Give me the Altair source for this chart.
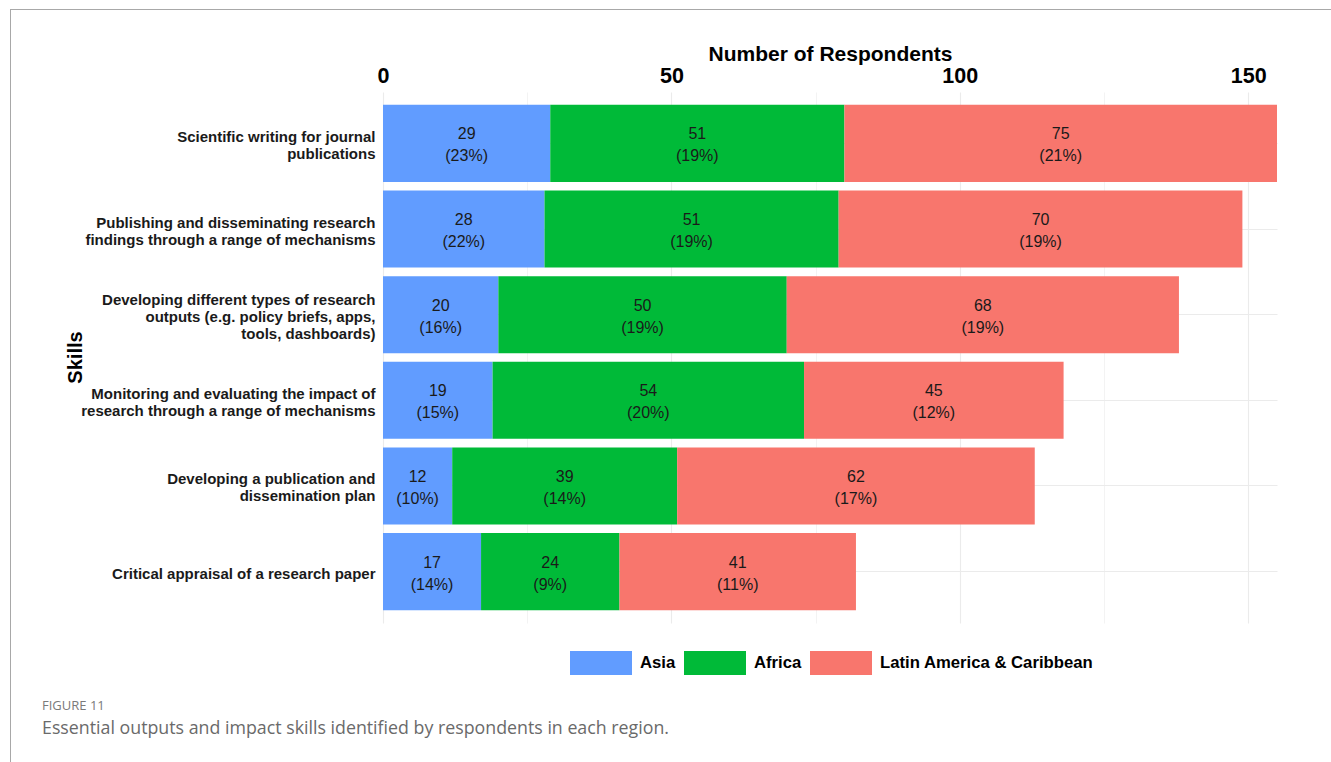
import altair as alt
import pandas as pd

# Skill categories (top to bottom); "|" marks a line break in the axis label
skills = [
    "Scientific writing for journal|publications\u2002",
    "Publishing and disseminating research|findings through a range of mechanisms",
    "Developing different types of research|outputs (e.g. policy briefs, apps,|tools, dashboards)",
    "Monitoring and evaluating the impact of|research through a range of mechanisms",
    "Developing a publication and|dissemination plan",
    "Critical appraisal of a research paper",
]
regions = ["Asia", "Africa", "Latin America & Caribbean"]
region_colors = ["#619CFF", "#00BA38", "#F8766D"]

asia_n = [29, 28, 20, 19, 12, 17]
africa_n = [51, 51, 50, 54, 39, 24]
latam_n = [75, 70, 68, 45, 62, 41]
asia_pct = [23, 22, 16, 15, 10, 14]
africa_pct = [19, 19, 19, 20, 14, 9]
latam_pct = [21, 19, 19, 12, 17, 11]

x_grid_values = [0, 25, 50, 75, 100, 125, 150]

rows = []
for order, (region, counts, pcts) in enumerate(
    zip(regions, [asia_n, africa_n, latam_n], [asia_pct, africa_pct, latam_pct])
):
    for skill, n, p in zip(skills, counts, pcts):
        rows.append({"skill": skill, "region": region, "n": n, "pct": p,
                     "ord": order, "label": f"{n}\n({p}%)"})
df = pd.DataFrame(rows)

W, H = 894, 531
LEFT, TOP = 383, 92
FONT = "Liberation Sans"
Y_LINE = 17

x_scale = alt.Scale(domain=[0, 155], nice=False, zero=True)
y_scale = alt.Scale(paddingInner=0.1, paddingOuter=0.15)

x_axis = alt.Axis(
    orient="top", values=x_grid_values,
    labelExpr="datum.value % 50 === 0 ? datum.label : ''",
    labelFont=FONT, labelFontSize=21.5, labelFontWeight="bold", labelColor="#000000",
    labelPadding=5, labelFlush=False, ticks=False, domain=False,
    grid=True, gridColor="#EBEBEB",
    gridWidth={"condition": {"test": "datum.value % 50 === 0", "value": 1.1}, "value": 0.6},
    title="Number of Respondents", titleFont=FONT, titleFontSize=21,
    titleFontWeight="bold", titleColor="#000000",
    titleY=-38, titleBaseline="middle",
)

# centre multi-line labels on their band
y_axis = alt.Axis(
    labelExpr="split(datum.label, '|')",
    labelFont=FONT, labelFontSize=15, labelFontWeight="bold", labelColor="#1a1a1a",
    labelLineHeight=Y_LINE, labelPadding=8, labelLimit=500,
    labelOffset={
        "condition": [
            {"test": "length(split(datum.label, '|')) === 3", "value": 2 - Y_LINE},
            {"test": "length(split(datum.label, '|')) === 2", "value": 2 - Y_LINE / 2},
        ],
        "value": 2,
    },
    ticks=False, domain=False, grid=True, gridColor="#EBEBEB", gridWidth=1.1,
    bandPosition=0.5,
    title="Skills", titleFont=FONT, titleFontSize=20, titleFontWeight="bold",
    titleColor="#000000", titleX=-308, titleY=265, titleBaseline="middle",
    titleAlign="center", titleAngle=-90,
)

color = alt.Color(
    "region:N",
    scale=alt.Scale(domain=regions, range=region_colors),
    legend=alt.Legend(
        orient="none", legendX=187, legendY=540, direction="horizontal",
        title=None, padding=0,
        symbolType="M-1,-0.387H1V0.387H-1Z", symbolSize=3844,
        symbolStrokeWidth=0, symbolOpacity=1,
        labelFont=FONT, labelFontSize=16.7, labelFontWeight="bold",
        labelColor="#000000", labelOffset=8, labelLimit=400, columnPadding=8,
    ),
)

bars = alt.Chart(df).mark_bar().encode(
    x=alt.X("n:Q", stack="zero", scale=x_scale, axis=x_axis),
    y=alt.Y("skill:N", sort=skills, scale=y_scale, axis=y_axis),
    color=color,
    order=alt.Order("ord:Q", sort="ascending"),
)

labels = alt.Chart(df).transform_stack(
    stack="n", as_=["x0", "x1"], groupby=["skill"],
    sort=[alt.SortField("ord", order="ascending")],
).transform_calculate(
    mid="(datum.x0 + datum.x1) / 2"
).mark_text(
    font=FONT, fontSize=16, color="#1a1a1a", lineBreak="\n", lineHeight=22,
    align="center", baseline="middle", dy=-9,
).encode(
    x=alt.X("mid:Q", scale=x_scale),
    y=alt.Y("skill:N", sort=skills, scale=y_scale),
    text="label:N",
)

one = pd.DataFrame({"k": [0]})

# page frame lines
frame_top = alt.Chart(one).mark_rule(color="#a8a8a8", strokeWidth=1).encode(
    x=alt.value(10 - LEFT), x2=alt.value(1331 - LEFT), y=alt.value(9.5 - TOP)
)
frame_left = alt.Chart(one).mark_rule(color="#a8a8a8", strokeWidth=1).encode(
    x=alt.value(10.5 - LEFT), y=alt.value(9 - TOP), y2=alt.value(762 - TOP)
)

caption_head = alt.Chart(one).mark_text(
    font="Open Sans", fontSize=13, color="#7a7a7a", align="left", baseline="middle"
).encode(x=alt.value(42 - LEFT), y=alt.value(706 - TOP), text=alt.value("FIGURE 11"))

caption_body = alt.Chart(one).mark_text(
    font="Open Sans", fontSize=17.8, color="#6a6a6a", align="left", baseline="middle"
).encode(
    x=alt.value(42 - LEFT), y=alt.value(729 - TOP),
    text=alt.value("Essential outputs and impact skills identified by respondents in each region."),
)

chart = alt.layer(
    bars, labels, frame_top, frame_left, caption_head, caption_body
).properties(
    width=W, height=H,
    autosize=alt.AutoSizeParams(type="none"),
    padding={"left": LEFT, "top": TOP, "right": 1331 - LEFT - W, "bottom": 762 - TOP - H},
    background="#ffffff",
).configure_view(stroke=None)

chart.save("out.html", embed_options={"renderer": "svg", "actions": False})
